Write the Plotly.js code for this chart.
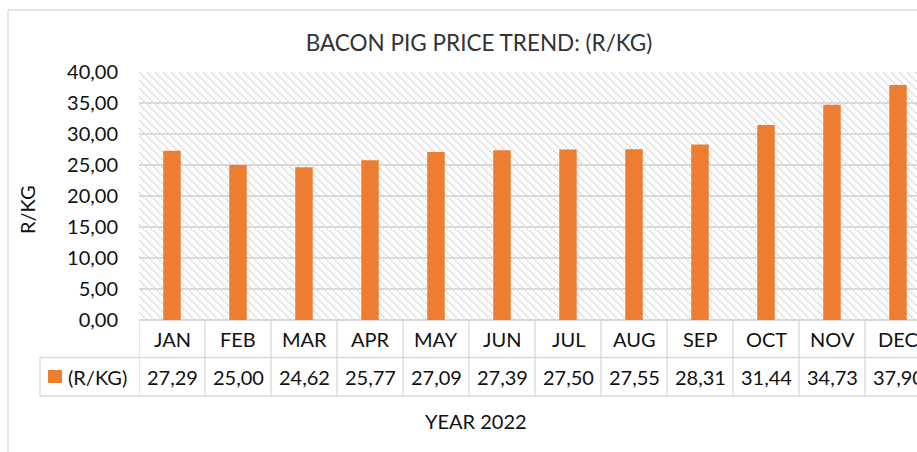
<!DOCTYPE html>
<html>
<head>
<meta charset="utf-8">
<script src="https://cdn.plot.ly/plotly-3.0.1.min.js"></script>
<style>
html,body{margin:0;padding:0;overflow:hidden;background:#fff;}
#chart{width:935px;height:452px;}
</style>
</head>
<body>
<div id="chart"></div>
<script>
// ---- data ----
const months = ["JAN","FEB","MAR","APR","MAY","JUN","JUL","AUG","SEP","OCT","NOV","DEC"];
const prices = [27.29, 25.00, 24.62, 25.77, 27.09, 27.39, 27.50, 27.55, 28.31, 31.44, 34.73, 37.90];
const seriesName = "(R/KG)";
const chartTitle = "BACON PIG PRICE TREND: (R/KG)";
const yTitle = "R/KG";
const xTitle = "YEAR 2022";
const yTicks = [0,5,10,15,20,25,30,35,40];

// ---- layout geometry ----
const W = 935, H = 452, L = 139, R = 4, T = 72, B = 132;
const pw = W - L - R, ph = H - T - B;
const px2x = p => (p - L) / pw;
const py2y = p => (T + ph - p) / ph;
const FONT = "Lato, 'Open Sans', sans-serif";
const ORANGE = "#ED7D31";
const GRID = "#d9d9d9";

const fmt = v => v.toFixed(2).replace(".", ",");

// hatch pattern background
const svg = `<svg xmlns="http://www.w3.org/2000/svg" width="${pw}" height="${ph}">
<defs><pattern id="p" width="8" height="8" patternUnits="userSpaceOnUse">
<rect width="8" height="8" fill="#ffffff"/>
<path d="M0,0 L8,8 M-4,4 L4,12 M4,-4 L12,4" stroke="#d2d2d2" stroke-width="1.8" stroke-dasharray="1.6,1.4"/>
</pattern></defs>
<rect width="${pw}" height="${ph}" fill="url(#p)"/></svg>`;
const hatchURI = "data:image/svg+xml;charset=utf-8," + encodeURIComponent(svg);

const trace = {
  type: "bar",
  x: months,
  y: prices,
  name: seriesName,
  marker: {color: ORANGE},
  hoverinfo: "x+y",
  showlegend: false
};

const shapes = [];
const annotations = [];
const yMonthTop = py2y(320), yRow1 = py2y(357.5), yRow2 = py2y(396);
// table lines
shapes.push({type:"line", xref:"paper", yref:"paper", x0:px2x(40), x1:1.02, y0:yRow1, y1:yRow1, line:{color:GRID, width:1.3}});
shapes.push({type:"line", xref:"paper", yref:"paper", x0:px2x(40), x1:1.02, y0:yRow2, y1:yRow2, line:{color:GRID, width:1.3}});
shapes.push({type:"line", xref:"paper", yref:"paper", x0:px2x(40), x1:px2x(40), y0:yRow1, y1:yRow2, line:{color:GRID, width:1.3}});
for (let i = 0; i <= months.length; i++) {
  shapes.push({type:"line", xref:"x", yref:"paper", x0:i-0.5, x1:i-0.5, y0:yMonthTop, y1:yRow2, line:{color:GRID, width:1.3}});
}
// chart border
shapes.push({type:"line", xref:"paper", yref:"paper", x0:px2x(8), x1:px2x(8), y0:py2y(10), y1:py2y(460), line:{color:GRID, width:1.3}});
shapes.push({type:"line", xref:"paper", yref:"paper", x0:px2x(8), x1:1.05, y0:py2y(10), y1:py2y(10), line:{color:GRID, width:1.3}});
// legend key
shapes.push({type:"rect", xref:"paper", yref:"paper", x0:px2x(48), x1:px2x(62), y0:py2y(383), y1:py2y(370), fillcolor:ORANGE, line:{width:0}});

// month labels & values
months.forEach((m, i) => {
  annotations.push({xref:"x", yref:"paper", x:m, y:py2y(339), text:m, showarrow:false, yanchor:"middle", font:{family:FONT, size:20, color:"#111"}});
  annotations.push({xref:"x", yref:"paper", x:m, y:py2y(377), text:fmt(prices[i]), showarrow:false, yanchor:"middle", font:{family:FONT, size:20, color:"#111"}});
});
annotations.push({xref:"paper", yref:"paper", x:px2x(66), y:py2y(377), xanchor:"left", text:seriesName, showarrow:false, yanchor:"middle", font:{family:FONT, size:20, color:"#111"}});
annotations.push({xref:"paper", yref:"paper", x:px2x(476), y:py2y(421), text:xTitle, showarrow:false, yanchor:"middle", font:{family:FONT, size:20, color:"#111"}});
annotations.push({xref:"paper", yref:"paper", x:px2x(27), y:py2y(210), text:yTitle, textangle:-90, showarrow:false, xanchor:"center", yanchor:"middle", font:{family:FONT, size:20, color:"#111"}});

const layout = {
  width: W, height: H,
  margin: {l:L, r:R, t:T, b:B},
  paper_bgcolor: "#fff",
  plot_bgcolor: "rgba(0,0,0,0)",
  separators: ", ",
  font: {family: FONT, color: "#111"},
  title: {text: chartTitle, font:{family:FONT, size:22.5, color:"#333"}, x: 479/W, xref:"container", xanchor:"center", y: 1 - 43/H, yref:"container", yanchor:"middle"},
  bargap: 0.735,
  xaxis: {type:"category", showticklabels:false, showgrid:false, zeroline:false, showline:false, ticks:"", range:[-0.5, months.length-0.5], fixedrange:true},
  yaxis: {range:[0,40], tickvals:yTicks, ticktext:yTicks.map(fmt), showgrid:true, gridcolor:GRID, gridwidth:1.5, zeroline:true, zerolinecolor:GRID, zerolinewidth:1.5, showline:false, ticks:"", ticklabelstandoff:20, tickfont:{family:FONT, size:20, color:"#111"}, fixedrange:true},
  images: [{source: hatchURI, xref:"paper", yref:"paper", x:0, y:1, sizex:1, sizey:1, sizing:"stretch", xanchor:"left", yanchor:"top", layer:"below"}],
  shapes: shapes,
  annotations: annotations,
  showlegend: false
};

Plotly.newPlot("chart", [trace], layout, {displayModeBar:false, staticPlot:true});
</script>
</body>
</html>
